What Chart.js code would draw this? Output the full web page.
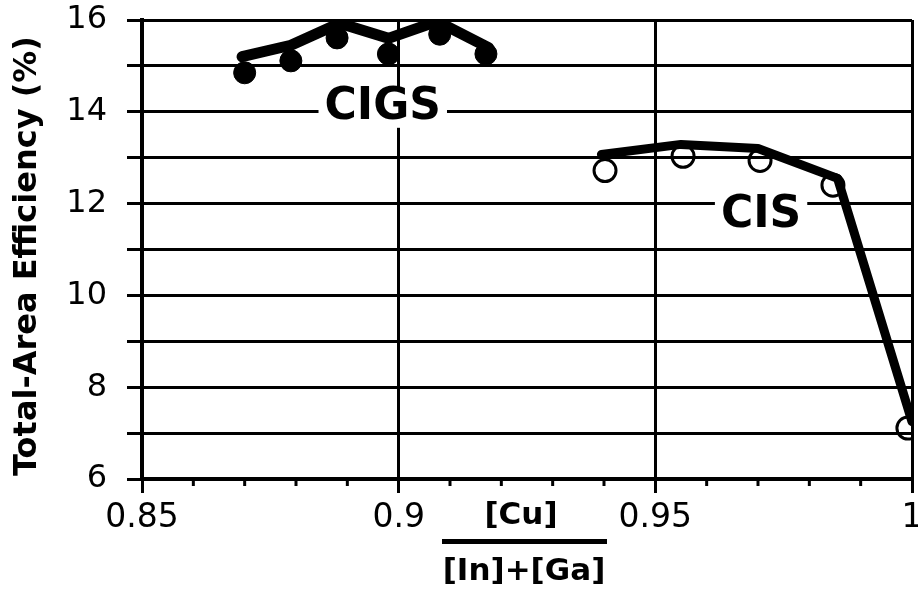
<!DOCTYPE html>
<html>
<head>
<meta charset="utf-8">
<script src="https://cdn.jsdelivr.net/npm/chart.js@4/dist/chart.umd.min.js"></script>
<style>
  html, body { margin: 0; padding: 0; background: #fff; }
  #wrap { width: 918px; height: 589px; }
</style>
</head>
<body>
<div id="wrap"><canvas id="effChart" width="918" height="589"></canvas></div>
<script>
// values
const cigsX = [0.870, 0.879, 0.888, 0.898, 0.908, 0.917];
const cigsY = [14.85, 15.11, 15.61, 15.26, 15.69, 15.26];
const cigsFitX = [0.8695, 0.879, 0.8885, 0.898, 0.9075, 0.9175];
const cigsFitY = [15.2, 15.45, 15.93, 15.6, 15.97, 15.4];

const cisX = [0.9402, 0.9554, 0.9704, 0.9846, 0.9992];
const cisY = [12.72, 13.03, 12.94, 12.4, 7.11];
const cisFitX = [0.9395, 0.955, 0.970, 0.9855, 1.0];
const cisFitY = [13.07, 13.29, 13.2, 12.55, 7.25];

const xMajor = [0.85, 0.9, 0.95, 1];
const yLabels = [6, 8, 10, 12, 14, 16];

const FONT = '"DejaVu Sans", sans-serif';
const pts = (xs, ys) => xs.map((x, i) => ({ x, y: ys[i] }));
const isMajorX = v => xMajor.some(m => Math.abs(m - v) < 1e-6);

// titles, curve labels and minor ticks
const annotations = {
    id: 'annotations',
    afterDraw(chart) {
        const ctx = chart.ctx;
        const xs = chart.scales.x, ys = chart.scales.y;
        const area = chart.chartArea;
        ctx.save();

        // minor ticks below the x axis
        ctx.strokeStyle = '#000';
        ctx.lineWidth = 3;
        for (let i = 86; i < 100; i++) {
            const v = i / 100;
            if (isMajorX(v)) continue;
            const px = xs.getPixelForValue(v);
            ctx.beginPath();
            ctx.moveTo(px, area.bottom);
            ctx.lineTo(px, area.bottom + 7);
            ctx.stroke();
        }

        // y axis title
        ctx.fillStyle = '#000';
        ctx.font = 'bold 32px ' + FONT;
        ctx.textAlign = 'center';
        ctx.textBaseline = 'middle';
        ctx.translate(28, 256);
        ctx.rotate(-Math.PI / 2);
        ctx.fillText('Total-Area Efficiency (%)', 0, 0);
        ctx.setTransform(1, 0, 0, 1, 0, 0);

        // x axis title as a fraction
        ctx.font = 'bold 31px ' + FONT;
        ctx.fillText('[Cu]', 521, 516);
        ctx.fillRect(442, 539, 165, 5);
        ctx.fillText('[In]+[Ga]', 524, 572);

        // curve labels with a white gap in the grid
        const tag = (text, x, y) => {
            ctx.font = 'bold 44px ' + FONT;
            const w = ctx.measureText(text).width;
            ctx.fillStyle = '#fff';
            ctx.fillRect(x - w / 2 - 6, y - 20, w + 12, 40);
            ctx.fillStyle = '#000';
            ctx.fillText(text, x, y);
        };
        tag('CIGS', xs.getPixelForValue(0.8969), ys.getPixelForValue(14) - 4);
        tag('CIS', xs.getPixelForValue(0.9706), ys.getPixelForValue(12) + 12);

        ctx.restore();
    }
};

new Chart(document.getElementById('effChart'), {
    type: 'scatter',
    data: {
        datasets: [
            {
                label: 'CIGS fit',
                data: pts(cigsFitX, cigsFitY),
                showLine: true,
                borderColor: '#000',
                borderWidth: 11,
                borderJoinStyle: 'round',
                borderCapStyle: 'round',
                pointRadius: 0,
                order: 0
            },
            {
                label: 'CIS fit',
                data: pts(cisFitX, cisFitY),
                showLine: true,
                borderColor: '#000',
                borderWidth: 9,
                borderJoinStyle: 'round',
                borderCapStyle: 'round',
                pointRadius: 0,
                order: 0
            },
            {
                label: 'CIGS',
                data: pts(cigsX, cigsY),
                pointRadius: 11,
                pointBackgroundColor: '#000',
                pointBorderColor: '#000',
                pointBorderWidth: 1,
                order: 1
            },
            {
                label: 'CIS',
                data: pts(cisX, cisY),
                pointRadius: 11,
                pointBackgroundColor: 'rgba(0,0,0,0)',
                pointBorderColor: '#000',
                pointBorderWidth: 3,
                order: 1
            }
        ]
    },
    options: {
        responsive: false,
        animation: false,
        layout: { autoPadding: false, padding: { top: 20, right: 6, left: 0, bottom: 0 } },
        plugins: { legend: { display: false }, tooltip: { enabled: false } },
        scales: {
            x: {
                type: 'linear',
                min: 0.85,
                max: 1,
                border: { color: '#000', width: 4 },
                grid: {
                    color: c => isMajorX(c.tick.value) ? '#000' : 'rgba(0,0,0,0)',
                    tickColor: c => isMajorX(c.tick.value) ? '#000' : 'rgba(0,0,0,0)',
                    lineWidth: 3,
                    tickLength: 14
                },
                ticks: {
                    stepSize: 0.01,
                    autoSkip: false,
                    maxRotation: 0,
                    padding: 6,
                    color: '#000',
                    font: { family: FONT, size: 33 },
                    callback: v => isMajorX(v) ? String(Math.round(v * 100) / 100) : ''
                },
                afterFit: s => { s.height = 110; s.paddingLeft = 0; s.paddingRight = 0; }
            },
            y: {
                min: 6,
                max: 16,
                border: { color: '#000', width: 4 },
                grid: { color: '#000', lineWidth: 3, tickLength: 15 },
                ticks: {
                    stepSize: 1,
                    autoSkip: false,
                    padding: 20,
                    color: '#000',
                    font: { family: FONT, size: 32 },
                    callback: v => yLabels.includes(v) ? String(v) : ''
                },
                afterFit: s => { s.width = 142; s.paddingTop = 0; s.paddingBottom = 0; }
            }
        }
    },
    plugins: [annotations]
});
</script>
</body>
</html>
